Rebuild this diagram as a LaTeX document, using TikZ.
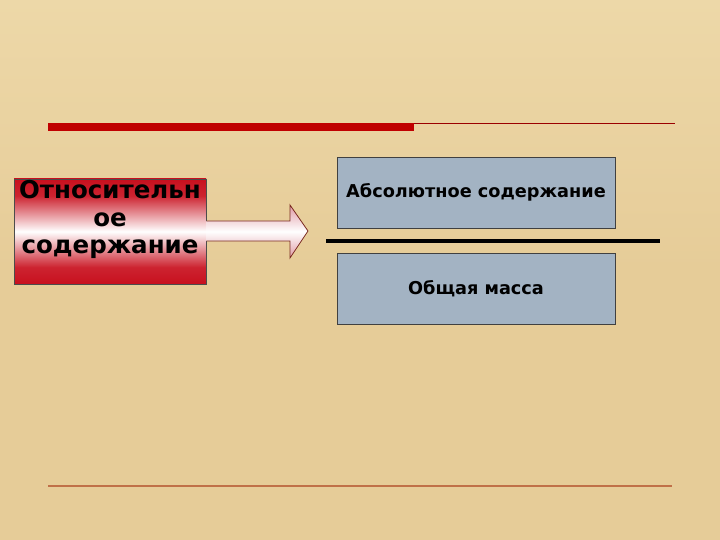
\documentclass[tikz,border=0pt]{standalone}
\usepackage{fontspec}
\setmainfont{DejaVu Sans}
\definecolor{parch}{HTML}{E6CC98}
\definecolor{parchlight}{HTML}{EDD8A8}
\definecolor{boxred}{HTML}{C8101E}
\definecolor{barred}{HTML}{C00000}
\definecolor{bottomline}{HTML}{C07048}
\definecolor{greyblue}{HTML}{A3B3C3}
\definecolor{arrowedge}{HTML}{7A2A20}
\definecolor{arrowpink}{HTML}{E09AA4}
\pgfdeclareverticalshading{redband}{100bp}{color(0bp)=(boxred); color(25bp)=(boxred); color(33bp)=(boxred!92!white); color(50bp)=(white); color(67bp)=(boxred!92!white); color(75bp)=(boxred); color(100bp)=(boxred)}
\tikzset{
  bluebox/.style={draw=black!75, line width=0.8pt, fill=greyblue, minimum width=278pt, minimum height=71pt, inner sep=0pt, font=\bfseries\fontsize{17.7}{21}\selectfont},
  redbox/.style={draw=black!70, line width=0.8pt, shading=redband, minimum width=192pt, minimum height=105pt, inner sep=0pt},
  redtext/.style={inner sep=0pt, align=center, font=\bfseries\fontsize{24.5}{27.5}\selectfont}
}
\begin{document}
\begin{tikzpicture}[x=1pt,y=-1pt]
\useasboundingbox (0,0) rectangle (720,540);
\shade[top color=parchlight, bottom color=parch, middle color=parch] (0,0) rectangle (720,540);
% top bars
\fill[barred] (48,123) rectangle (414,131);
\draw[barred!80!black, line width=1pt] (414,123.5) -- (675,123.5);
% bottom line
\draw[bottomline, line width=2.4pt] (48,486) -- (672,486);
% red box
\node[redbox] (rel) at (110,231.5) {};
\node[redtext] (reltext) at (110,219.5) {Относительн\\ое\\содержание};
% arrow
\coordinate (tip) at (308,231);
\path[draw=arrowedge, line width=0.8pt, top color=arrowpink, bottom color=arrowpink, middle color=white]
  (rel.east |- 0,221) -- (290,221) -- (290,205) -- (tip) -- (290,258) -- (290,241) -- (rel.east |- 0,241);
% blue boxes
\node[bluebox] (abs) at (476,192.5) {Абсолютное содержание};
\node[bluebox] (tot) at (476,288.5) {Общая масса};
% fraction line
\coordinate (fl) at (326,241);
\coordinate (fr) at (660,241);
\draw[black, line width=4pt] (fl) -- (fr);
\end{tikzpicture}
\end{document}
